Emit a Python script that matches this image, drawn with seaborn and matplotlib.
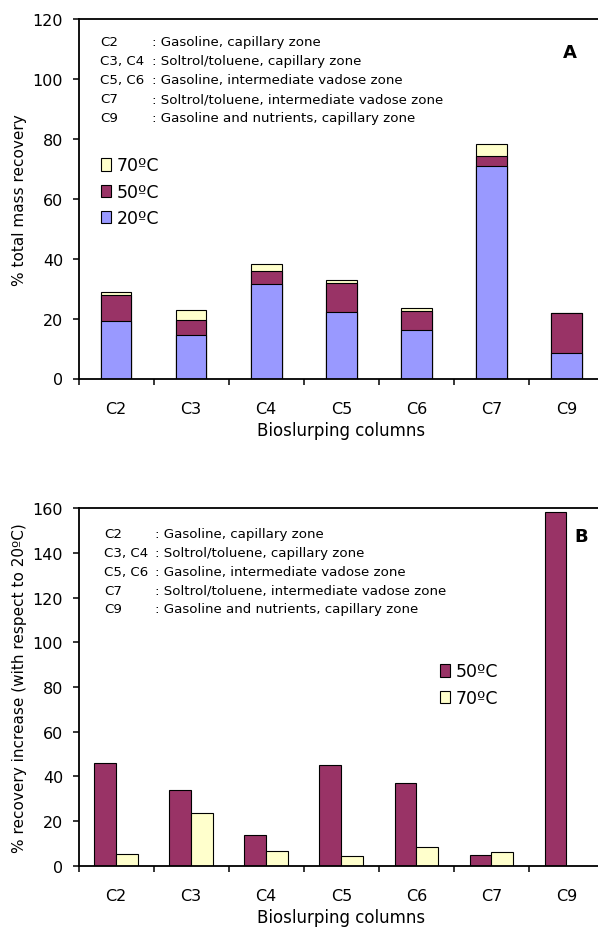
import numpy as np
import pandas as pd
import matplotlib
matplotlib.use("Agg")
import matplotlib.pyplot as plt
from matplotlib.patches import Patch
import seaborn as sns

# ---- data -------------------------------------------------------------
columns = ["C2", "C3", "C4", "C5", "C6", "C7", "C9"]

# Panel A: share of total mass recovered at each temperature stage (%)
recovery_20 = [19.2, 14.5, 31.5, 22.2, 16.2, 71.0, 8.5]
recovery_50 = [8.6, 5.0, 4.4, 9.7, 6.4, 3.4, 13.3]
recovery_70 = [1.0, 3.2, 2.2, 1.0, 0.9, 4.0, 0.0]

# Panel B: recovery increase relative to 20 ºC (%)
increase_50 = [45.8, 33.7, 13.9, 44.9, 36.9, 4.6, 158.2]
increase_70 = [5.1, 23.4, 6.4, 4.2, 8.2, 6.0, 0.0]

ylim_a, yticks_a = 120, [0, 20, 40, 60, 80, 100, 120]
ylim_b, yticks_b = 160, [0, 20, 40, 60, 80, 100, 120, 140, 160]

notes_codes = ["C2", "C3, C4", "C5, C6", "C7", "C9"]
notes_text = [
    ": Gasoline, capillary zone",
    ": Soltrol/toluene, capillary zone",
    ": Gasoline, intermediate vadose zone",
    ": Soltrol/toluene, intermediate vadose zone",
    ": Gasoline and nutrients, capillary zone",
]

colors = {"20ºC": "#9999FF", "50ºC": "#993366", "70ºC": "#FFFFCC"}

# ---- style ------------------------------------------------------------
sns.set_theme(style="white")
plt.rcParams["font.family"] = ["DejaVu Sans"]
plt.rcParams["axes.linewidth"] = 1.3
plt.rcParams["axes.edgecolor"] = "black"
for key in ["text.color", "axes.labelcolor", "xtick.color", "ytick.color"]:
    plt.rcParams[key] = "black"

W, H = 598, 929
fig = plt.figure(figsize=(W / 100, H / 100), dpi=100)


def fx(px):
    return px / W


def fy(py):
    return 1 - py / H


left_px, right_px = 78.5, 604
ax_a = fig.add_axes([fx(left_px), fy(379.5), (right_px - left_px) / W, (379.5 - 20) / H])
ax_b = fig.add_axes([fx(left_px), fy(866.7), (right_px - left_px) / W, (866.7 - 509.3) / H])

# ---- panel A: stacked bars (drawn as cumulative layers) ---------------
cum_50 = np.array(recovery_20) + np.array(recovery_50)
cum_70 = cum_50 + np.array(recovery_70)
layers = [("70ºC", cum_70), ("50ºC", cum_50), ("20ºC", np.array(recovery_20))]
for name, heights in layers:
    df = pd.DataFrame({"column": columns, "value": heights})
    sns.barplot(data=df, x="column", y="value", order=columns, ax=ax_a,
                color=colors[name], saturation=1, width=0.41,
                edgecolor="black", linewidth=0.8, errorbar=None)

# ---- panel B: grouped bars ---------------------------------------------
df_b = pd.DataFrame({
    "column": columns * 2,
    "temp": ["50ºC"] * len(columns) + ["70ºC"] * len(columns),
    "value": increase_50 + increase_70,
})
sns.barplot(data=df_b, x="column", y="value", hue="temp", order=columns,
            hue_order=["50ºC", "70ºC"], palette=colors, saturation=1,
            width=0.58, edgecolor="black", linewidth=0.8, errorbar=None,
            legend=False, ax=ax_b)

# ---- axes formatting ---------------------------------------------------
for ax, top, ticks, ylabel in [
    (ax_a, ylim_a, yticks_a, "% total mass recovery"),
    (ax_b, ylim_b, yticks_b, "% recovery increase (with respect to 20ºC)"),
]:
    ax.set_xlim(-0.5, len(columns) - 0.5)
    ax.set_ylim(0, top)
    ax.set_yticks(ticks)
    ax.set_xticks(range(len(columns)))
    ax.set_xticklabels(columns)
    ax.set_xticks(np.arange(len(columns) + 1) - 0.5, minor=True)
    ax.tick_params(axis="x", which="major", length=0, pad=16, labelsize=11.5)
    ax.tick_params(axis="x", which="minor", length=4, width=1.1,
                   direction="out", bottom=True, color="black")
    ax.tick_params(axis="y", which="major", length=4, width=1.1,
                   direction="out", left=True, pad=7, labelsize=11.5,
                   color="black")
    ax.set_xlabel("Bioslurping columns", fontsize=12, labelpad=4)
    ax.set_ylabel(ylabel, fontsize=11, labelpad=4)
    for side in ["left", "bottom", "top"]:
        ax.spines[side].set_visible(True)
        ax.spines[side].set_color("black")
    ax.spines["right"].set_visible(False)
    ax.grid(False)

# ---- notes -------------------------------------------------------------
for (x_code, x_text, y0), step in [((100, 151.5, 42.7), 19.0),
                                   ((104, 154.6, 535.0), 18.75)]:
    for i, (code, txt) in enumerate(zip(notes_codes, notes_text)):
        y = y0 + i * step
        fig.text(fx(x_code), fy(y), code, fontsize=9.6, va="center", ha="left")
        fig.text(fx(x_text), fy(y), txt, fontsize=9.6, va="center", ha="left")

fig.text(fx(570), fy(53), "A", fontsize=13, fontweight="bold",
         ha="center", va="center")
fig.text(fx(581), fy(537), "B", fontsize=13, fontweight="bold",
         ha="center", va="center")

# ---- legends -----------------------------------------------------------
def handles(names):
    return [Patch(facecolor=colors[n], edgecolor="black", linewidth=0.8)
            for n in names]


leg_kw = dict(frameon=False, fontsize=12.5, handlelength=0.62, handleheight=0.7,
              handletextpad=0.3, labelspacing=0.48, borderpad=0,
              borderaxespad=0, loc="upper left")
names_a = ["70ºC", "50ºC", "20ºC"]
ax_a.legend(handles(names_a), names_a,
            bbox_to_anchor=(fx(100.5), fy(157.5)),
            bbox_transform=fig.transFigure, **leg_kw)
names_b = ["50ºC", "70ºC"]
ax_b.legend(handles(names_b), names_b,
            bbox_to_anchor=(fx(439.5), fy(663.5)),
            bbox_transform=fig.transFigure, **leg_kw)

fig.savefig("out.png", dpi=100)
